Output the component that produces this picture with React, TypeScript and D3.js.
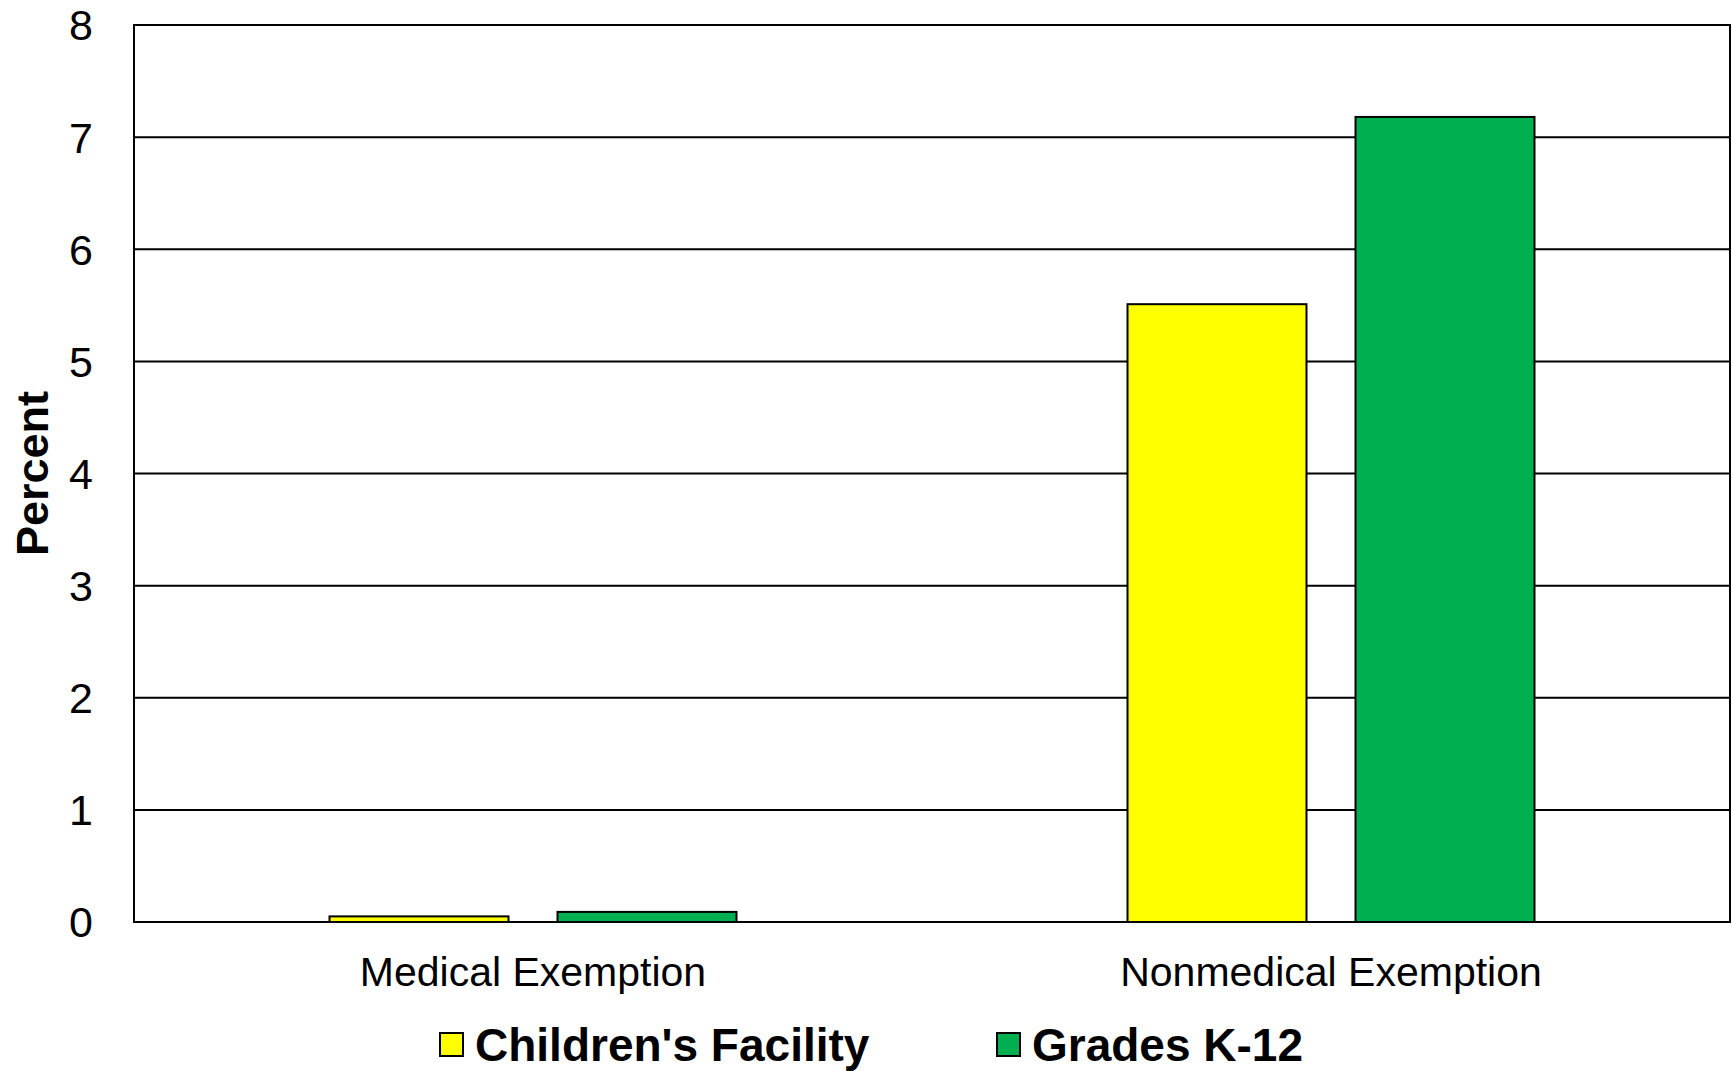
import React, { useEffect, useRef } from 'react'
import * as d3 from 'd3'

const categories = ['Medical Exemption', 'Nonmedical Exemption']
const seriesNames = ["Children's Facility", 'Grades K-12']
const childrensFacility = [0.05, 5.51]
const gradesK12 = [0.09, 7.18]
const yTicks = [0, 1, 2, 3, 4, 5, 6, 7, 8]
const colors = ['#FFFF00', '#00B050']

const App: React.FC = () => {
  const ref = useRef<SVGSVGElement | null>(null)

  useEffect(() => {
    document.body.style.margin = '0'
    renderChart()
  }, [])

  const renderChart = () => {
    const width = 1732
    const height = 1071
    const left = 134
    const right = 1730
    const top = 25
    const bottom = 922
    const font = "'Liberation Sans', Arial, sans-serif"

    const svg = d3.select(ref.current)
    svg.selectAll('*').remove()
    svg.attr('width', width).attr('height', height)

    const yScale = d3.scaleLinear().domain([0, 8]).range([bottom, top])
    const xScale = d3
      .scaleBand()
      .domain(categories)
      .range([left, right])
      .paddingInner(0.49)
      .paddingOuter(0.245)
    const inner = d3
      .scaleBand()
      .domain(seriesNames)
      .range([0, xScale.bandwidth()])
      .paddingInner(0.215)

    /* gridlines */
    svg
      .append('g')
      .selectAll('line')
      .data(yTicks.filter((t) => t > 0 && t < 8))
      .enter()
      .append('line')
      .attr('x1', left)
      .attr('x2', right)
      .attr('y1', (d) => yScale(d))
      .attr('y2', (d) => yScale(d))
      .attr('stroke', '#000')
      .attr('stroke-width', 2)

    /* bars */
    const rows = categories.map((c, i) => ({
      category: c,
      values: [childrensFacility[i], gradesK12[i]],
    }))
    const groups = svg
      .append('g')
      .selectAll('g')
      .data(rows)
      .enter()
      .append('g')
      .attr('transform', (d) => `translate(${xScale(d.category)}, 0)`)
    groups
      .selectAll('rect')
      .data((d) => d.values.map((v, j) => ({ v, name: seriesNames[j], j })))
      .enter()
      .append('rect')
      .attr('x', (d) => inner(d.name) as number)
      .attr('width', inner.bandwidth())
      .attr('y', (d) => yScale(d.v))
      .attr('height', (d) => bottom - yScale(d.v))
      .attr('fill', (d) => colors[d.j])
      .attr('stroke', '#000')
      .attr('stroke-width', 2)

    /* plot border */
    svg
      .append('rect')
      .attr('x', left)
      .attr('y', top)
      .attr('width', right - left)
      .attr('height', bottom - top)
      .attr('fill', 'none')
      .attr('stroke', '#000')
      .attr('stroke-width', 2)

    /* y tick labels */
    svg
      .append('g')
      .selectAll('text')
      .data(yTicks)
      .enter()
      .append('text')
      .attr('x', 93)
      .attr('y', (d) => yScale(d))
      .attr('dy', '0.36em')
      .attr('text-anchor', 'end')
      .style('font-family', font)
      .style('font-size', '43px')
      .text((d) => d)

    /* category labels */
    svg
      .append('g')
      .selectAll('text')
      .data(categories)
      .enter()
      .append('text')
      .attr('x', (d) => (xScale(d) as number) + xScale.bandwidth() / 2)
      .attr('y', 986)
      .attr('text-anchor', 'middle')
      .style('font-family', font)
      .style('font-size', '41px')
      .text((d) => d)

    /* y axis title */
    svg
      .append('text')
      .attr('transform', `translate(48, ${(top + bottom) / 2}) rotate(-90)`)
      .attr('text-anchor', 'middle')
      .style('font-family', font)
      .style('font-size', '45px')
      .style('font-weight', 'bold')
      .text('Percent')

    /* legend */
    const legendX = [440, 997]
    const legend = svg
      .append('g')
      .selectAll('g')
      .data(seriesNames)
      .enter()
      .append('g')
      .attr('transform', (d, i) => `translate(${legendX[i]}, 1033)`)
    legend
      .append('rect')
      .attr('width', 23)
      .attr('height', 23)
      .attr('fill', (d, i) => colors[i])
      .attr('stroke', '#000')
      .attr('stroke-width', 2)
    legend
      .append('text')
      .attr('x', 35)
      .attr('y', 28)
      .style('font-family', font)
      .style('font-size', '46px')
      .style('font-weight', 'bold')
      .text((d) => d)
  }

  return <svg ref={ref} style={{ display: 'block' }} />
}

export default App
